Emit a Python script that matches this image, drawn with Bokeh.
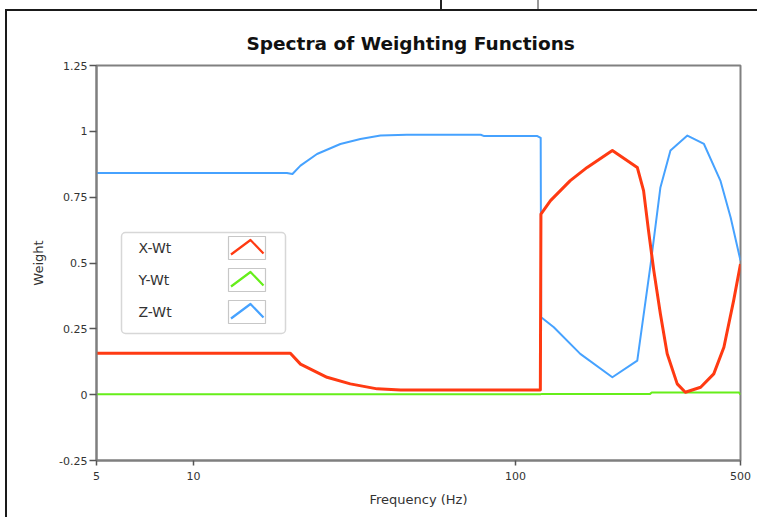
from bokeh.plotting import figure
from bokeh.models import Range1d, LinearScale, FixedTicker, BoxAnnotation, Label, ColumnDataSource
from bokeh.embed import file_html
from bokeh.resources import INLINE

# ---------------- data ----------------
freq_x = [5, 20, 21.5, 26, 30.7, 37.2, 44, 119.5, 120, 128.5, 148, 167, 200, 239,
          250, 259, 269, 282, 296, 318, 337, 376, 413, 444, 476, 500]
wt_x = [0.157, 0.157, 0.116, 0.066, 0.041, 0.022, 0.018, 0.018, 0.686, 0.737, 0.813,
        0.863, 0.927, 0.863, 0.775, 0.623, 0.471, 0.306, 0.155, 0.041, 0.009, 0.028,
        0.079, 0.18, 0.357, 0.496]

freq_y = [5, 120, 121, 262, 265, 495, 500]
wt_y = [0.002, 0.002, 0.003, 0.003, 0.008, 0.008, 0.0]

freq_z = [5, 19.5, 20.3, 21.5, 24.2, 28.6, 33, 38.1, 46, 78, 80, 117, 119.8, 120.2,
          131.6, 159, 200, 239, 263, 282, 303, 342, 385, 433, 466, 500]
wt_z = [0.842, 0.842, 0.838, 0.87, 0.914, 0.952, 0.971, 0.984, 0.987, 0.987, 0.982,
        0.982, 0.975, 0.294, 0.256, 0.155, 0.066, 0.129, 0.496, 0.787, 0.927, 0.984,
        0.952, 0.813, 0.673, 0.509]

series_names = ["X-Wt", "Y-Wt", "Z-Wt"]
series_colors = ["#ff3a12", "#66ee1a", "#46a2ff"]
series_widths = [3, 2, 2]

x_ticks = [5, 10, 100, 500]
x_tick_labels = ["5", "10", "100", "500"]
y_ticks = [-0.25, 0, 0.25, 0.5, 0.75, 1, 1.25]
y_tick_labels = ["-0.25", "0", "0.25", "0.5", "0.75", "1", "1.25"]

# ---------------- figure ----------------
FRAME_W, FRAME_H = 644, 395
p = figure(width=752, height=508, x_axis_type="log",
           x_range=Range1d(5, 500), y_range=Range1d(-0.25, 1.25),
           output_backend="svg", toolbar_location=None,
           min_border_left=89, min_border_right=19, min_border_top=54, min_border_bottom=59,
           title="Spectra of Weighting Functions",
           x_axis_label="Frequency (Hz)", y_axis_label="Weight")
p.styles = {"border-left": "2px solid #1a1a1a", "border-top": "2px solid #1a1a1a",
            "margin-left": "5px", "margin-top": "9px"}
# fragment of a neighbouring panel peeking above the frame
p.stylesheets = [":host::before { content: ''; position: absolute; left: 433px; top: -11px; "
                 "width: 95px; height: 9px; border-left: 2px solid #222; "
                 "border-right: 2px solid #999; box-sizing: content-box; }"]
p.background_fill_color = "white"
p.border_fill_color = "white"
p.outline_line_color = "#808080"
p.outline_line_width = 2
p.grid.visible = False

p.title.text_font = "DejaVu Sans"
p.title.text_font_size = "18.5px"
p.title.text_font_style = "bold"
p.title.text_color = "#111111"
p.title.align = "left"
p.title.offset = 150
p.title.standoff = 23

for ax in (p.xaxis[0], p.yaxis[0]):
    ax.axis_line_color = "#7f7f7f"
    ax.axis_line_width = 2
    ax.major_tick_line_color = "#555555"
    ax.major_tick_line_width = 1.5
    ax.major_tick_in = 0
    ax.minor_tick_line_color = None
    ax.major_label_text_font = "DejaVu Sans"
    ax.major_label_text_font_size = "11px"
    ax.major_label_text_color = "#333333"
    ax.axis_label_text_font = "DejaVu Sans"
    ax.axis_label_text_font_size = "13px"
    ax.axis_label_text_font_style = "normal"
    ax.axis_label_text_color = "#333333"

p.xaxis.ticker = FixedTicker(ticks=x_ticks, minor_ticks=[])
p.xaxis.major_label_overrides = dict(zip(x_ticks, x_tick_labels))
p.xaxis.major_tick_out = 5
p.xaxis.major_label_standoff = 6
p.xaxis.axis_label_standoff = 9

p.yaxis.ticker = FixedTicker(ticks=y_ticks, minor_ticks=[])
p.yaxis.major_label_overrides = dict(zip(y_ticks, y_tick_labels))
p.yaxis.major_tick_out = 7
p.yaxis.major_label_standoff = 2
p.yaxis.axis_label_standoff = 10

# ---------------- lines ----------------
series = [(freq_x, wt_x), (freq_y, wt_y), (freq_z, wt_z)]
for idx in (1, 2, 0):
    fx, wy = series[idx]
    p.line(fx, wy, line_color=series_colors[idx], line_width=series_widths[idx],
           line_join="round")

# ---------------- custom legend (frame pixel coords) ----------------
p.extra_x_ranges = {"px": Range1d(0, FRAME_W)}
p.extra_y_ranges = {"py": Range1d(FRAME_H, 0)}
p.extra_x_scales = {"px": LinearScale()}
p.extra_y_scales = {"py": LinearScale()}

LEG_L, LEG_R, LEG_T, LEG_B = 25, 189, 167, 268
p.add_layout(BoxAnnotation(left=LEG_L, right=LEG_R, top=LEG_T, bottom=LEG_B,
                           x_range_name="px", y_range_name="py",
                           fill_color="white", fill_alpha=1.0,
                           line_color="#7a7a7a", line_width=1.5, border_radius=4))

ROW_Y = [182.5, 214.5, 246.5]
BOX_L, BOX_R, BOX_H = 132, 169, 23
cx, cy = [], []
for name, color, ry in zip(series_names, series_colors, ROW_Y):
    p.add_layout(Label(x=42, y=ry, text=name, x_range_name="px", y_range_name="py",
                       text_font="DejaVu Sans", text_font_size="14px",
                       text_color="#333333", text_baseline="middle", text_align="left"))
    top, bot = ry - BOX_H / 2, ry + BOX_H / 2
    p.add_layout(BoxAnnotation(left=BOX_L, right=BOX_R, top=top, bottom=bot,
                               x_range_name="px", y_range_name="py",
                               fill_color="white", fill_alpha=1.0,
                               line_color="#444444", line_width=1.2))
    cx.append([BOX_L + 2.5, BOX_L + 22, BOX_R - 2])
    cy.append([bot - 5, top + 3.5, bot - 6])

p.multi_line(xs="xs", ys="ys", line_color="color", line_width=2.2, line_join="round",
             x_range_name="px", y_range_name="py", level="overlay",
             source=ColumnDataSource(dict(xs=cx, ys=cy, color=series_colors)))

open("out.html", "w").write(file_html(p, INLINE))
